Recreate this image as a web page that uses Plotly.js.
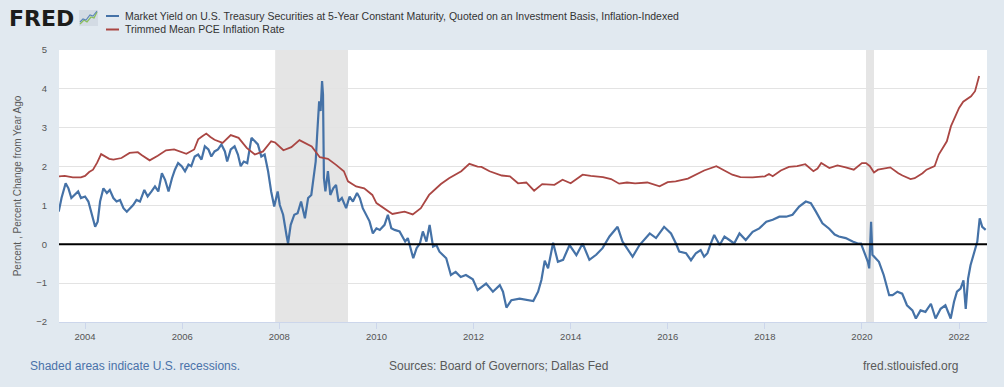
<!DOCTYPE html>
<html>
<head>
<meta charset="utf-8">
<script src="https://cdn.plot.ly/plotly-3.0.1.min.js"></script>
<style>
  html, body { margin: 0; padding: 0; background: #e1e9f0; }
  #chart { width: 1004px; height: 387px; }
</style>
</head>
<body>
<div id="chart"></div>
<script>
// ---- Data ----
const seriesNames = [
  'Market Yield on U.S. Treasury Securities at 5-Year Constant Maturity, Quoted on an Investment Basis, Inflation-Indexed',
  'Trimmed Mean PCE Inflation Rate'
];

const tipsDates = [
  '2003-06-17','2003-07-08','2003-08-08','2003-08-29','2003-09-20','2003-10-16','2003-11-10','2003-12-01',
  '2004-01-01','2004-01-26','2004-02-20','2004-03-17','2004-04-05','2004-04-23','2004-05-18','2004-06-13',
  '2004-07-05','2004-08-01','2004-08-25','2004-09-20','2004-10-16','2004-11-10','2004-12-05','2004-12-28',
  '2005-01-22','2005-02-17','2005-03-22','2005-04-16','2005-05-15','2005-06-10','2005-07-05','2005-08-01',
  '2005-08-25','2005-09-20','2005-10-16','2005-11-07','2005-12-01','2005-12-28',
  '2006-01-22','2006-02-17','2006-03-10','2006-04-05','2006-05-01','2006-05-26','2006-06-20','2006-07-17',
  '2006-08-08','2006-09-01','2006-09-27','2006-10-23','2006-11-18','2006-12-05',
  '2007-01-01','2007-01-30','2007-02-24','2007-03-17','2007-04-09','2007-05-05','2007-06-06','2007-07-01',
  '2007-07-24','2007-08-19','2007-09-13','2007-10-09','2007-11-01','2007-11-24','2007-12-20',
  '2008-01-05','2008-01-30','2008-02-24','2008-03-07','2008-03-27','2008-04-23','2008-05-18','2008-06-13',
  '2008-07-12','2008-08-05','2008-08-29','2008-09-12','2008-10-01','2008-10-12','2008-10-27','2008-11-07',
  '2008-11-18','2008-11-25','2008-12-02','2008-12-13',
  '2009-01-01','2009-01-19','2009-02-10','2009-03-03','2009-03-22','2009-04-16','2009-05-18','2009-06-13',
  '2009-07-08','2009-08-08','2009-08-29','2009-09-20','2009-10-16','2009-11-10','2009-12-05',
  '2010-01-01','2010-01-26','2010-03-03','2010-03-28','2010-04-23','2010-05-18','2010-06-24','2010-08-05',
  '2010-08-25','2010-10-05','2010-10-30','2010-11-24','2010-12-16',
  '2011-01-12','2011-02-05','2011-03-03','2011-03-28','2011-04-20','2011-05-15','2011-06-10','2011-07-15',
  '2011-08-20','2011-09-27','2011-11-05','2011-12-27',
  '2012-02-01','2012-04-05','2012-05-26','2012-07-17','2012-08-10','2012-09-05','2012-10-12','2012-12-13',
  '2013-02-03','2013-03-26','2013-05-01','2013-05-26','2013-06-20','2013-07-15','2013-08-22','2013-09-27',
  '2013-11-05','2013-12-24',
  '2014-02-13','2014-04-01','2014-05-22','2014-07-12','2014-08-29','2014-10-20','2014-12-20',
  '2015-01-26','2015-04-12','2015-06-03','2015-08-19','2015-10-05','2015-12-05',
  '2016-01-26','2016-03-03','2016-03-28','2016-05-18','2016-06-24','2016-07-31','2016-09-05','2016-10-01',
  '2016-10-26','2016-11-20','2016-12-16',
  '2017-01-26','2017-03-03','2017-04-09','2017-05-15','2017-06-24','2017-08-10','2017-10-01','2017-11-20',
  '2018-01-12','2018-03-01','2018-04-20','2018-06-10','2018-07-28','2018-09-16','2018-11-05','2018-12-13',
  '2019-01-20','2019-03-10','2019-04-30','2019-06-10','2019-07-12','2019-09-01','2019-10-23','2019-12-01',
  '2019-12-25',
  '2020-01-20','2020-02-15','2020-02-25','2020-03-10','2020-03-20','2020-04-12','2020-05-08','2020-06-13',
  '2020-07-24','2020-08-19','2020-09-24','2020-10-30','2020-12-05',
  '2021-01-15','2021-02-10','2021-03-17','2021-04-23','2021-06-03','2021-07-08','2021-08-15','2021-09-20',
  '2021-10-30','2021-11-24','2021-12-16',
  '2022-01-12','2022-02-03','2022-02-20','2022-03-10','2022-03-28','2022-04-23','2022-05-18','2022-06-05',
  '2022-06-24','2022-07-20'
];
const tipsYield = [
  0.84,1.19,1.57,1.44,1.19,1.27,1.36,1.19,
  1.23,1.10,0.76,0.45,0.58,1.10,1.44,1.32,
  1.40,1.19,1.10,1.14,0.93,0.84,0.93,1.01,
  1.14,1.10,1.40,1.23,1.36,1.49,1.36,1.83,
  1.66,1.36,1.70,1.92,2.09,2.01,
  1.88,2.05,2.01,2.26,2.31,2.18,2.52,2.44,
  2.26,2.39,2.44,2.57,2.39,2.13,
  2.44,2.52,2.31,2.01,2.13,2.09,2.74,2.65,
  2.57,2.26,2.31,1.88,1.36,0.97,1.36,
  1.01,0.76,0.24,0.02,0.50,0.76,0.80,1.10,
  0.67,1.19,1.27,1.70,2.13,2.82,3.68,3.43,
  4.20,3.86,1.70,1.36,
  1.88,1.27,1.44,1.53,1.10,1.19,0.93,1.23,
  1.10,1.32,1.19,0.93,0.76,0.59,0.28,
  0.41,0.37,0.50,0.76,0.41,0.37,0.33,0.07,
  0.16,-0.36,-0.10,0.02,0.33,
  0.07,0.50,-0.06,-0.02,-0.19,-0.27,-0.36,-0.79,
  -0.71,-0.84,-0.79,-0.90,
  -1.18,-1.01,-1.22,-1.05,-1.22,-1.63,-1.44,-1.40,
  -1.44,-1.46,-1.22,-0.92,-0.42,-0.62,0.04,-0.45,
  -0.40,-0.02,
  -0.28,0.02,-0.40,-0.27,-0.10,0.20,0.45,
  0.07,-0.32,-0.02,0.28,0.16,0.45,
  0.28,0.02,-0.19,-0.23,-0.41,-0.23,-0.15,-0.32,
  -0.23,0.02,0.24,
  -0.02,0.20,0.11,0.02,0.28,0.11,0.32,0.41,
  0.58,0.63,0.71,0.71,0.76,0.97,1.10,1.06,
  0.84,0.54,0.40,0.25,0.20,0.16,0.07,0.02,
  0.02,
  -0.23,-0.45,-0.62,0.58,-0.27,-0.36,-0.45,-0.79,
  -1.31,-1.31,-1.22,-1.27,-1.57,
  -1.70,-1.91,-1.70,-1.74,-1.53,-1.91,-1.66,-1.57,
  -1.91,-1.48,-1.22,
  -1.14,-0.93,-1.66,-0.88,-0.54,-0.23,0.07,0.67,
  0.45,0.37
];

const pceDates = [
  '2003-06','2003-08','2003-10','2003-12','2004-01','2004-02','2004-03','2004-04','2004-05','2004-07',
  '2004-08','2004-10','2004-12','2005-02','2005-03','2005-05','2005-07','2005-09','2005-11',
  '2006-01','2006-02','2006-04','2006-05','2006-06','2006-07','2006-08','2006-09','2006-11',
  '2007-01','2007-03','2007-05','2007-07','2007-09','2007-11','2007-12',
  '2008-02','2008-04','2008-06','2008-09','2008-11',
  '2009-01','2009-03','2009-05','2009-06','2009-08','2009-10','2009-12',
  '2010-01','2010-03','2010-05','2010-07','2010-08','2010-10','2010-12',
  '2011-02','2011-05','2011-07','2011-10','2011-12',
  '2012-02','2012-03','2012-05','2012-08','2012-10','2012-12',
  '2013-02','2013-04','2013-06','2013-09','2013-11',
  '2014-01','2014-04','2014-06','2014-09','2014-11',
  '2015-01','2015-03','2015-05','2015-08','2015-11',
  '2016-01','2016-03','2016-06','2016-08','2016-10',
  '2017-01','2017-03','2017-05','2017-07','2017-10',
  '2018-01','2018-02','2018-03','2018-05','2018-07','2018-09','2018-11',
  '2019-01','2019-02','2019-03','2019-05','2019-07','2019-09','2019-11',
  '2020-01','2020-02','2020-03','2020-04','2020-05','2020-08','2020-10','2020-11',
  '2021-01','2021-02','2021-04','2021-05','2021-07','2021-08','2021-10','2021-11',
  '2022-01','2022-02','2022-04','2022-05','2022-06'
];
const pceInflation = [
  1.74,1.76,1.72,1.72,1.76,1.86,1.92,2.10,2.32,2.20,
  2.18,2.22,2.35,2.37,2.30,2.16,2.28,2.42,2.44,
  2.36,2.33,2.44,2.70,2.78,2.85,2.76,2.69,2.61,
  2.81,2.74,2.48,2.31,2.39,2.65,2.62,
  2.42,2.50,2.68,2.52,2.24,
  2.20,2.05,1.88,1.62,1.49,1.44,1.27,
  1.06,0.93,0.78,0.82,0.84,0.77,0.93,
  1.27,1.55,1.70,1.88,2.07,
  2.00,1.99,1.88,1.77,1.75,1.57,
  1.59,1.38,1.55,1.53,1.66,
  1.57,1.79,1.76,1.73,1.68,
  1.56,1.59,1.57,1.59,1.49,
  1.60,1.62,1.69,1.79,1.90,
  2.01,1.90,1.79,1.73,1.72,
  1.75,1.81,1.75,1.90,1.99,2.01,2.06,
  1.88,1.95,2.09,1.96,2.03,1.98,1.92,
  2.09,2.09,2.01,1.85,1.92,1.98,1.83,1.77,
  1.68,1.70,1.83,1.92,2.01,2.31,2.65,3.04,
  3.51,3.67,3.81,3.94,4.33
];

const recessionStart = ['2007-12-01', '2020-02-01'];
const recessionEnd   = ['2009-06-01', '2020-04-01'];

const yTickValues = [-2, -1, 0, 1, 2, 3, 4, 5];

// ---- Layout helpers (pixel -> paper) ----
const M = { l: 59, r: 17, t: 50, b: 65 };
const W = 1004 - M.l - M.r, H = 387 - M.t - M.b;
const px = x => (x - M.l) / W;
const py = y => (M.t + H - y) / H;

const BLUE = '#4572a7', RED = '#aa4643';
const FONT = 'Liberation Sans, Arial, sans-serif';

const traces = [
  { type: 'scatter', mode: 'lines', name: seriesNames[0], x: tipsDates, y: tipsYield,
    line: { color: BLUE, width: 2.2 }, showlegend: false },
  { type: 'scatter', mode: 'lines', name: seriesNames[1], x: pceDates, y: pceInflation,
    line: { color: RED, width: 1.8 }, showlegend: false }
];

const shapes = [];
recessionStart.forEach((s, i) => {
  shapes.push({ type: 'rect', xref: 'x', yref: 'paper', x0: s, x1: recessionEnd[i], y0: 0, y1: 1,
    fillcolor: '#e5e5e5', line: { width: 0 }, layer: 'between' });
});
// zero baseline
shapes.push({ type: 'line', xref: 'paper', yref: 'y', x0: 0, x1: 1, y0: 0, y1: 0,
  line: { color: '#000000', width: 2 }, layer: 'above' });
// legend samples
shapes.push({ type: 'line', xref: 'paper', yref: 'paper', x0: px(106), x1: px(119), y0: py(16), y1: py(16),
  line: { color: BLUE, width: 2 } });
shapes.push({ type: 'line', xref: 'paper', yref: 'paper', x0: px(106), x1: px(119), y0: py(29.5), y1: py(29.5),
  line: { color: RED, width: 2 } });
// FRED logo icon
shapes.push({ type: 'rect', xref: 'paper', yref: 'paper', x0: px(79), x1: px(98), y0: py(26), y1: py(10),
  fillcolor: '#d3dbe4', line: { width: 0 } });
const pth = pts => 'M ' + pts.map(p => px(p[0]) + ',' + py(p[1])).join(' L ');
shapes.push({ type: 'path', xref: 'paper', yref: 'paper',
  path: pth([[80, 24], [84, 20], [87, 22], [91, 17], [94, 18], [97, 12]]),
  line: { color: '#8bbf5a', width: 1.3 } });
shapes.push({ type: 'path', xref: 'paper', yref: 'paper',
  path: pth([[80, 22], [83, 19], [86, 20], [90, 15], [93, 16], [97, 11]]),
  line: { color: '#5b86b8', width: 1.1 } });

const annotations = [
  { text: '<b>FRED</b>', xref: 'paper', yref: 'paper', x: px(7), y: py(18.5), xanchor: 'left', yanchor: 'middle',
    showarrow: false, font: { family: 'DejaVu Sans, sans-serif', size: 22, color: '#1d1d1b' } },
  { text: seriesNames[0], xref: 'paper', yref: 'paper', x: px(123), y: py(16), xanchor: 'left', yanchor: 'middle',
    showarrow: false, font: { family: FONT, size: 10.5, color: '#333333' } },
  { text: seriesNames[1], xref: 'paper', yref: 'paper', x: px(123), y: py(29.5), xanchor: 'left', yanchor: 'middle',
    showarrow: false, font: { family: FONT, size: 10.5, color: '#333333' } },
  { text: 'Shaded areas indicate U.S. recessions.', xref: 'paper', yref: 'paper', x: px(28), y: py(366),
    xanchor: 'left', yanchor: 'middle', showarrow: false, font: { family: FONT, size: 12, color: '#4a72a9' } },
  { text: 'Sources: Board of Governors; Dallas Fed', xref: 'paper', yref: 'paper', x: px(387), y: py(366),
    xanchor: 'left', yanchor: 'middle', showarrow: false, font: { family: FONT, size: 12, color: '#595959' } },
  { text: 'fred.stlouisfed.org', xref: 'paper', yref: 'paper', x: px(960), y: py(366),
    xanchor: 'right', yanchor: 'middle', showarrow: false, font: { family: FONT, size: 12, color: '#595959' } }
];

const layout = {
  width: 1004, height: 387,
  margin: M,
  paper_bgcolor: '#e1e9f0',
  plot_bgcolor: '#ffffff',
  font: { family: FONT, color: '#595959' },
  showlegend: false,
  xaxis: {
    type: 'date',
    range: ['2003-06-19', '2022-07-30'],
    tick0: '2004-01-01', dtick: 'M24', tickformat: '%Y',
    showgrid: false, zeroline: false,
    showline: true, linecolor: '#ccd6eb', linewidth: 1,
    ticks: 'outside', ticklen: 6, tickcolor: '#ccd6eb', tickwidth: 1,
    tickfont: { family: FONT, size: 9.5, color: '#555555' }
  },
  yaxis: {
    range: [-2, 5],
    tickvals: yTickValues,
    showgrid: true, gridcolor: '#e3e3e3', gridwidth: 1,
    zeroline: false, showline: false, ticks: '',
    ticklabelstandoff: 11,
    tickfont: { family: FONT, size: 9.5, color: '#555555' },
    title: { text: 'Percent , Percent Change from Year Ago', standoff: 12,
      font: { family: FONT, size: 10, color: '#595959' } }
  },
  shapes: shapes,
  annotations: annotations
};

Plotly.newPlot('chart', traces, layout, { staticPlot: true, displayModeBar: false });
</script>
</body>
</html>
